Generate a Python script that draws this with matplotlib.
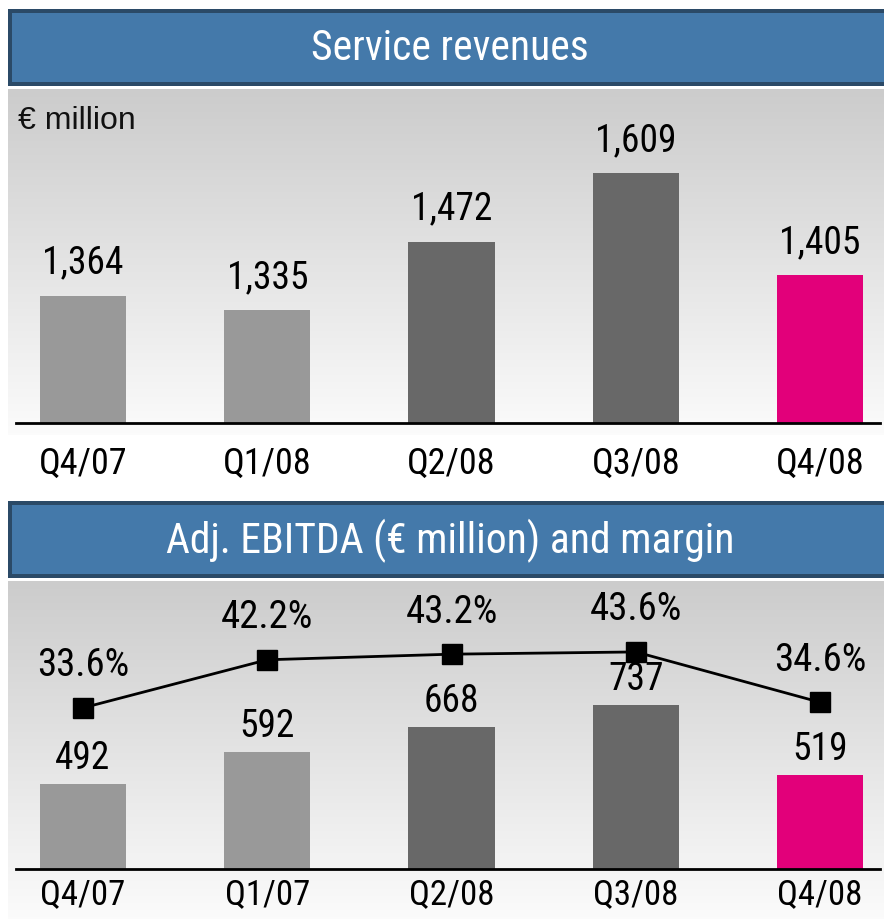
import matplotlib
matplotlib.use("Agg")
import matplotlib.pyplot as plt
import numpy as np
from matplotlib.patches import Rectangle
from matplotlib import font_manager

# ---- data ----
top_categories = ["Q4/07", "Q1/08", "Q2/08", "Q3/08", "Q4/08"]
service_revenues = [1364, 1335, 1472, 1609, 1405]
service_labels = ["1,364", "1,335", "1,472", "1,609", "1,405"]

bottom_categories = ["Q4/07", "Q1/07", "Q2/08", "Q3/08", "Q4/08"]
adj_ebitda = [492, 592, 668, 737, 519]
ebitda_margin = [33.6, 42.2, 43.2, 43.6, 34.6]

bar_colors = ["#999999", "#999999", "#686868", "#686868", "#e2007a"]

# ---- fonts ----
avail = {f.name for f in font_manager.fontManager.ttflist}
narrow = None
for cand in ["Liberation Sans Narrow", "DejaVu Sans Condensed", "Roboto Condensed", "Open Sans Condensed"]:
    if cand in avail:
        narrow = cand
        break
if narrow is None:
    narrow = "Liberation Sans"
FONT = [narrow, "DejaVu Sans"]
plt.rcParams["font.family"] = FONT

W, H = 884, 920
fig = plt.figure(figsize=(W / 100, H / 100), dpi=100)
fig.patch.set_facecolor("white")


def px_axes(x0, y0, x1, y1, **kw):
    """Axes from pixel box (top-left origin)."""
    return fig.add_axes([x0 / W, 1 - y1 / H, (x1 - x0) / W, (y1 - y0) / H], **kw)


def title_bar(y0, y1, text):
    ax = px_axes(8, y0, W, y1)
    ax.set_xlim(0, 1)
    ax.set_ylim(0, 1)
    ax.axis("off")
    ax.add_patch(Rectangle((0, 0), 1, 1, transform=ax.transAxes,
                           facecolor="#2b4a67", edgecolor="none"))
    bw = 4 / (W - 8)
    bh = 4 / (y1 - y0)
    ax.add_patch(Rectangle((bw, bh), 1.2, 1 - 2 * bh, transform=ax.transAxes,
                           facecolor="#4479aa", edgecolor="none"))
    ax.text((450 - 8) / (W - 8), 0.5, text, transform=ax.transAxes,
            ha="center", va="center", color="white", fontsize=30)


def gradient_bg(y0, y1, c_top=0.80, c_bot=0.985):
    ax = px_axes(8, y0, W, y1)
    ax.axis("off")
    g = np.linspace(c_top, c_bot, 256).reshape(-1, 1)
    ax.imshow(np.dstack([g, g, g]), aspect="auto", extent=[0, 1, 0, 1],
              interpolation="bicubic")
    return ax


# ================= TOP CHART =================
title_bar(10, 87, "Service revenues")
gradient_bg(90, 436)

spacing = 184.25
x_left, x_right = 16, 880
x0_lim = -(83 - x_left) / spacing
x1_lim = 4 + (x_right - 820) / spacing

ax1 = px_axes(x_left, 90, x_right, 424)
ax1.patch.set_alpha(0)
xs = np.arange(len(top_categories))
ax1.bar(xs, service_revenues, width=0.467, color=bar_colors, zorder=2)
ax1.set_xlim(x0_lim, x1_lim)
ax1.set_ylim(1109, 1109 + 334 / 0.5)
for s in ["top", "right", "left"]:
    ax1.spines[s].set_visible(False)
ax1.spines["bottom"].set_linewidth(2)
ax1.set_yticks([])
ax1.set_xticks(xs)
ax1.set_xticklabels(top_categories, fontsize=26)
ax1.tick_params(axis="x", length=0, pad=16)
for x, v, lab in zip(xs, service_revenues, service_labels):
    ax1.annotate(lab, (x, v), xytext=(0, 24), textcoords="offset points",
                 ha="center", va="center", fontsize=27)

fig.text(18 / W, 1 - 121 / H, "€ million", fontsize=23, ha="left", va="center",
         family=["Liberation Sans", "DejaVu Sans"], color="#111111")

# ================= BOTTOM CHART =================
title_bar(502, 579, "Adj. EBITDA (€ million) and margin")
gradient_bg(582, H)

ax2 = px_axes(x_left, 582, x_right, 870)
ax2.patch.set_alpha(0)
ax2.bar(xs, adj_ebitda, width=0.467, color=bar_colors, zorder=2)
ax2.set_xlim(x0_lim, x1_lim)
ax2.set_ylim(230, 230 + 288 / 0.324)
for s in ["top", "right", "left"]:
    ax2.spines[s].set_visible(False)
ax2.spines["bottom"].set_linewidth(2)
ax2.set_yticks([])
ax2.set_xticks(xs)
ax2.set_xticklabels(bottom_categories, fontsize=25)
ax2.tick_params(axis="x", length=0, pad=6)
for x, v in zip(xs, adj_ebitda):
    ax2.annotate(f"{v}", (x, v), xytext=(0, 19), textcoords="offset points",
                 ha="center", va="center", fontsize=27)

ax3 = ax2.twinx()
ax3.patch.set_alpha(0)
ax3.plot(xs, ebitda_margin, color="black", lw=2, marker="s", markersize=15,
         zorder=5)
ax3.set_ylim(4.77, 56.29)
ax3.set_xlim(x0_lim, x1_lim)
ax3.axis("off")
for x, v in zip(xs, ebitda_margin):
    ax3.annotate(f"{v:.1f}%", (x, v), xytext=(0, 31), textcoords="offset points",
                 ha="center", va="center", fontsize=28)

fig.savefig("out.png", dpi=100, facecolor="white")
